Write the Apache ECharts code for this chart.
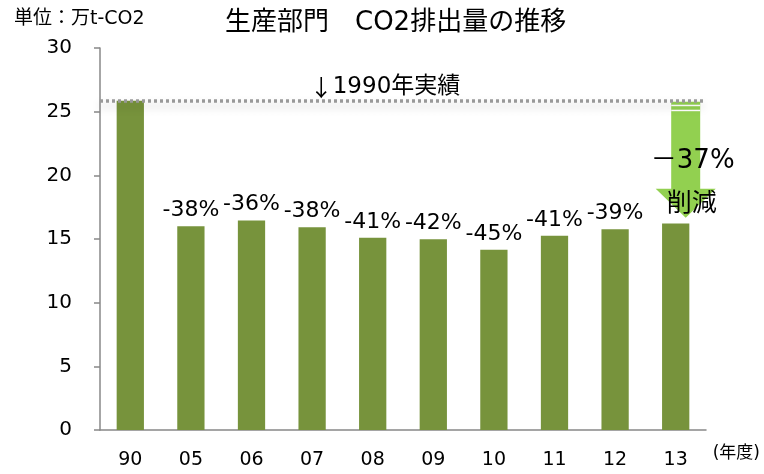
<!DOCTYPE html>
<html><head><meta charset="utf-8">
<script src="https://cdn.jsdelivr.net/npm/echarts@6/dist/echarts.min.js"></script>
<style>html,body{margin:0;padding:0;background:#fff}#c{width:764px;height:474px}</style>
</head><body><div id="c"></div>
<script>
var categories = ['90','05','06','07','08','09','10','11','12','13'];
var values = [25.86, 16.0, 16.46, 15.93, 15.09, 14.98, 14.15, 15.25, 15.77, 16.22];
var labels = ['', '-38%', '-36%', '-38%', '-41%', '-42%', '-45%', '-41%', '-39%', ''];
var yTicks = [0, 5, 10, 15, 20, 25, 30];
var base1990 = 25.86;
var arrowHeadValue = 18.95;
var arrowTipValue = 16.67;
var reductionText = '－37%';

var FONT = '"DejaVu Sans", "Noto Sans CJK JP", sans-serif';
var chart = echarts.init(document.getElementById('c'), null, {renderer: 'canvas'});
chart.setOption({
  animation: false,
  backgroundColor: '#fff',
  textStyle: {fontFamily: FONT},
  title: {
    text: '生産部門　CO2排出量の推移',
    left: 220, top: 5,
    textStyle: {fontSize: 26, fontWeight: 'normal', color: '#000', fontFamily: FONT}
  },
  grid: {left: 100, right: 58, top: 48, bottom: 44},
  xAxis: {
    type: 'category', data: categories,
    axisLine: {lineStyle: {color: '#888', width: 1.5}},
    axisTick: {show: false},
    axisLabel: {fontSize: 19, color: '#000', margin: 21, fontFamily: FONT}
  },
  yAxis: {
    type: 'value', min: yTicks[0], max: yTicks[yTicks.length - 1], interval: 5,
    axisLine: {show: true, lineStyle: {color: '#888', width: 1.5}},
    axisTick: {show: true, length: 6, lineStyle: {color: '#888', width: 1.5}},
    splitLine: {show: false},
    axisLabel: {fontSize: 20, color: '#000', margin: 28, fontFamily: FONT}
  },
  series: [{
    type: 'bar',
    data: values,
    barWidth: '45%',
    itemStyle: {color: '#77933C'},
    label: {
      show: true, position: 'top', distance: 5,
      fontSize: 22, color: '#000', fontFamily: FONT,
      formatter: function (p) { return labels[p.dataIndex]; }
    },
    markLine: {
      symbol: ['none', 'none'],
      silent: true,
      lineStyle: {type: [3, 3], color: '#999', width: 3.5, shadowBlur: 8, shadowColor: 'rgba(0,0,0,0.25)', shadowOffsetY: 5},
      label: {
        show: true, position: 'insideMiddleTop', formatter: '{a|↓}1990年実績',
        fontSize: 23, color: '#000', distance: 2, offset: [-18, 0], fontFamily: FONT,
        rich: {a: {fontSize: 23, fontFamily: '"Noto Sans CJK JP"', color: '#000'}}
      },
      data: [{yAxis: base1990}]
    }
  }]
});

function drawArrow() {
  var top = chart.convertToPixel({seriesIndex: 0}, [categories.length - 1, base1990]);
  var head = chart.convertToPixel({seriesIndex: 0}, [categories.length - 1, arrowHeadValue]);
  var tip = chart.convertToPixel({seriesIndex: 0}, [categories.length - 1, arrowTipValue]);
  var cx = top[0] + 10;
  var sw = 14.5, hw = 30;
  chart.setOption({
    graphic: [
      {type: 'polygon', z: 1, shape: {points: [
        [cx - sw, top[1] + 1], [cx + sw, top[1] + 1], [cx + sw, head[1]], [cx + hw, head[1]],
        [cx, tip[1]], [cx - hw, head[1]], [cx - sw, head[1]]
      ]}, style: {fill: '#92D050'}},
      {type: 'rect', z: 2, shape: {x: cx - sw, y: top[1] + 4, width: sw * 2, height: 1.5}, style: {fill: '#fff'}},
      {type: 'rect', z: 2, shape: {x: cx - sw, y: top[1] + 9, width: sw * 2, height: 1.5}, style: {fill: '#fff'}},
      {type: 'text', z: 3, x: cx + 7, y: top[1] + 61, style: {text: reductionText, font: '26px ' + FONT, fill: '#000', align: 'center', verticalAlign: 'middle'}},
      {type: 'text', z: 3, x: cx + 6, y: top[1] + 104, style: {text: '削減', font: '25px ' + FONT, fill: '#000', align: 'center', verticalAlign: 'middle'}},
      {type: 'text', z: 3, left: 14, top: 10, style: {text: '単位：万t-CO2', font: '19px ' + FONT, fill: '#000'}},
      {type: 'text', z: 3, right: 4, top: 445, style: {text: '(年度)', font: '17px ' + FONT, fill: '#000'}}
    ]
  });
}
drawArrow();
</script>
</body></html>
